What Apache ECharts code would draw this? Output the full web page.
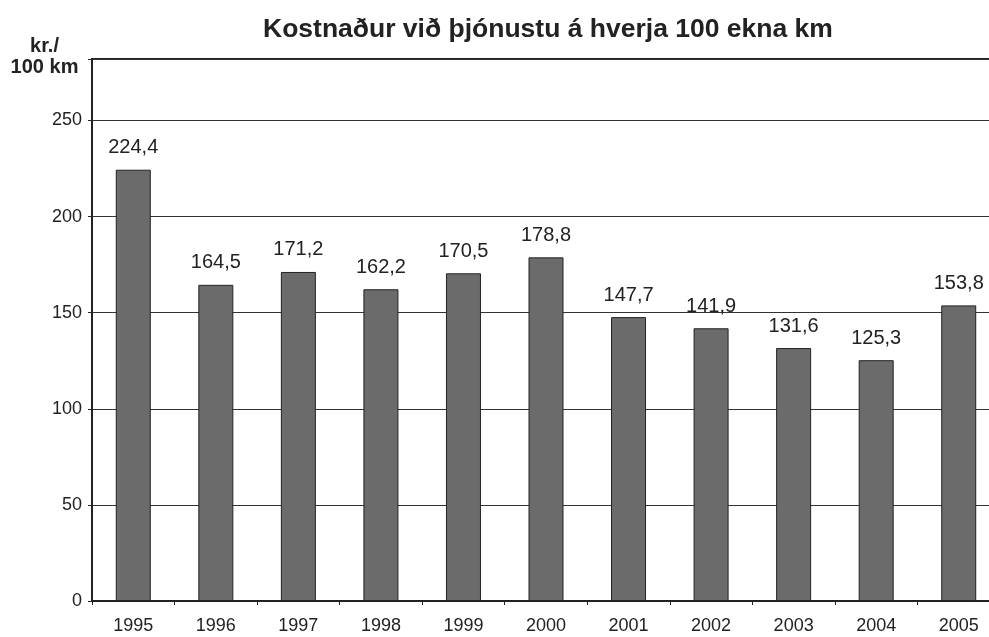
<!DOCTYPE html>
<html>
<head>
<meta charset="utf-8">
<script src="https://cdn.jsdelivr.net/npm/echarts@6/dist/echarts.min.js"></script>
<style>
  html, body { margin: 0; padding: 0; background: #fff; }
  #chart { width: 989px; height: 637px; }
</style>
</head>
<body>
<div id="chart"></div>
<script>
const years = ['1995', '1996', '1997', '1998', '1999', '2000', '2001', '2002', '2003', '2004', '2005']
const costPer100km = [224.4, 164.5, 171.2, 162.2, 170.5, 178.8, 147.7, 141.9, 131.6, 125.3, 153.8]
const yTicks = [0, 50, 100, 150, 200, 250]

const font = '"Liberation Sans", Arial, sans-serif'
const chart = echarts.init(document.getElementById('chart'))

chart.setOption({
  animation: false,
  backgroundColor: '#fff',
  title: {
    text: 'Kostnaður við þjónustu á hverja 100 ekna km',
    left: 258,
    top: 11,
    textStyle: { fontFamily: font, fontSize: 26.5, fontWeight: 'bold', color: '#222' },
  },
  graphic: [
    {
      type: 'text',
      x: 44.5,
      y: 36,
      style: {
        text: 'kr./\n100 km',
        font: 'bold 20px ' + font,
        fill: '#222',
        align: 'center',
        lineHeight: 21,
      },
    },
  ],
  grid: {
    left: 92,
    width: 908,
    top: 59,
    bottom: 36,
    outerBoundsMode: 'none',
    containLabel: false,
    show: true,
    borderColor: '#222',
    borderWidth: 2,
  },
  xAxis: {
    type: 'category',
    data: years,
    axisLine: { show: true, lineStyle: { color: '#222', width: 2 } },
    axisTick: { show: true, length: 4, lineStyle: { color: '#222', width: 1 } },
    axisLabel: { color: '#222', fontSize: 18, fontFamily: font, margin: 16 },
  },
  yAxis: {
    type: 'value',
    min: 0,
    max: 282,
    interval: 50,
    axisLine: { show: true, lineStyle: { color: '#222', width: 2 } },
    axisTick: { show: true, length: 4, lineStyle: { color: '#222', width: 1 } },
    axisLabel: {
      color: '#222',
      fontSize: 18,
      fontFamily: font,
      margin: 10,
      formatter: v => (yTicks.includes(v) ? String(v) : ''),
    },
    splitLine: { show: true, lineStyle: { color: '#333', width: 1 } },
  },
  series: [
    {
      type: 'bar',
      data: costPer100km,
      barWidth: 35,
      itemStyle: { color: '#6b6b6b', borderColor: '#222', borderWidth: 1 },
      label: {
        show: true,
        position: 'top',
        distance: 12,
        color: '#222',
        fontSize: 20,
        fontFamily: font,
        formatter: p => p.value.toFixed(1).replace('.', ','),
      },
    },
  ],
})
</script>
</body>
</html>
